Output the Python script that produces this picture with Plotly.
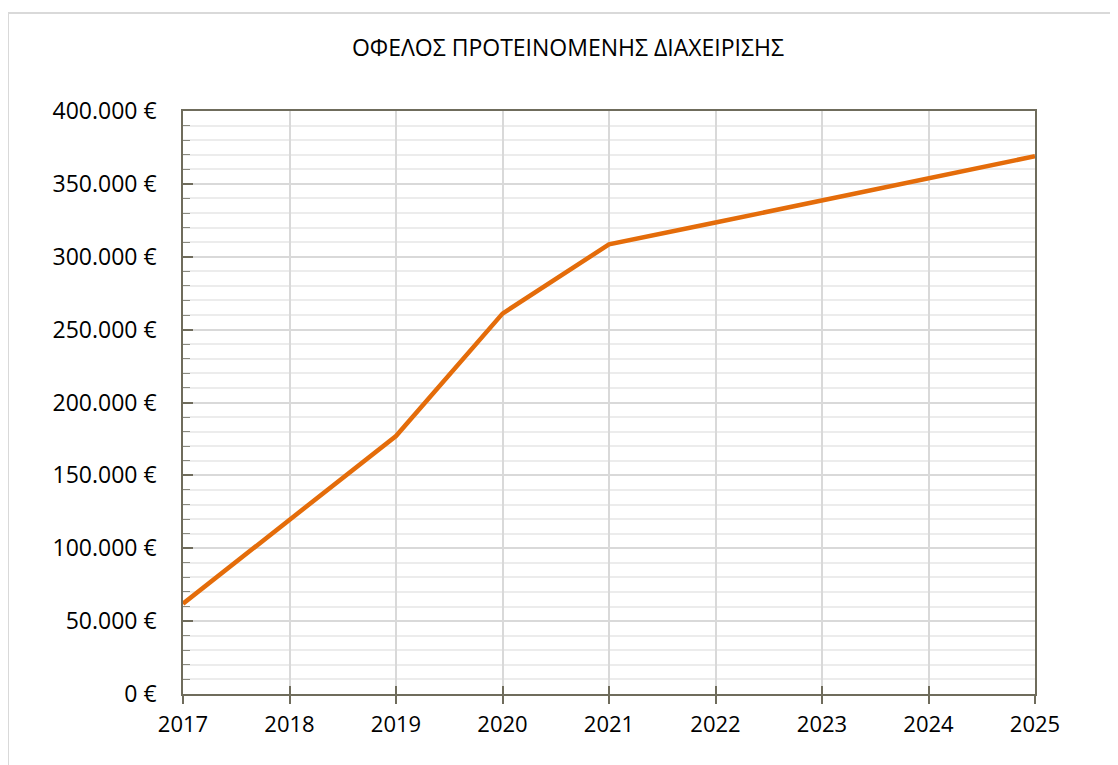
import plotly.graph_objects as go

years = [2017, 2018, 2019, 2020, 2021, 2022, 2023, 2024, 2025]
benefit = [62000, 119500, 177000, 261000, 308500, 323500, 338500, 353500, 369000]
title_text = "ΟΦΕΛΟΣ ΠΡΟΤΕΙΝΟΜΕΝΗΣ ΔΙΑΧΕΙΡΙΣΗΣ"

OFF = 8  # page body margin
W, H = 1118 - OFF, 765 - OFF
L, R, T, B = 183 - OFF, 83, 111 - OFF, 71
pw, ph = W - L - R, H - T - B

axis_col = "#6f6c5c"
font_fam = "Open Sans, DejaVu Sans, sans-serif"

fig = go.Figure()
fig.add_trace(go.Scatter(
    x=years, y=benefit, mode="lines",
    line=dict(color="#E46C0A", width=4.5),
    showlegend=False, hoverinfo="x+y",
))
# invisible trace to carry the inside half of the crossing x ticks
fig.add_trace(go.Scatter(x=years, y=benefit, xaxis="x2", mode="lines",
                         line=dict(width=0), showlegend=False, hoverinfo="skip"))

fig.update_layout(
    width=W, height=H,
    margin=dict(l=L, r=R, t=T, b=B),
    paper_bgcolor="white", plot_bgcolor="white",
    separators=",.",
    font=dict(family=font_fam, color="#000000"),
    title=dict(text=title_text, x=(568 - OFF) / W, xref="container", xanchor="center",
               y=1 - (48 - OFF) / H, yref="container", yanchor="middle",
               font=dict(size=23, family=font_fam, color="#000000")),
    xaxis=dict(
        range=[years[0], years[-1]], tickmode="array", tickvals=years,
        ticktext=[str(y) for y in years],
        showgrid=True, gridcolor="#d9d9d9", gridwidth=1.5,
        showline=True, linecolor=axis_col, linewidth=1.5, mirror=True,
        ticks="outside", ticklen=8, tickcolor=axis_col, tickwidth=1.5,
        tickfont=dict(size=22), ticklabelstandoff=2,
        zeroline=False,
    ),
    xaxis2=dict(
        overlaying="x", range=[years[0], years[-1]], tickmode="array", tickvals=years,
        showticklabels=False, showgrid=False, showline=False,
        ticks="inside", ticklen=8, tickcolor=axis_col, tickwidth=1.5,
        side="bottom", anchor="y", zeroline=False,
    ),
    yaxis=dict(
        range=[0, 400000], tick0=0, dtick=50000,
        tickformat=",d", ticksuffix=" €",
        showgrid=True, gridcolor="#d9d9d9", gridwidth=1.5,
        showline=True, linecolor=axis_col, linewidth=1.5, mirror=True,
        ticks="inside", ticklen=10, tickcolor=axis_col, tickwidth=1.5,
        tickfont=dict(size=23), ticklabelstandoff=20,
        zeroline=False,
        minor=dict(dtick=10000, showgrid=True, gridcolor="#ececec", gridwidth=1.5,
                   ticks="inside", ticklen=7, tickcolor="#8a8a80", tickwidth=1),
    ),
)

# outer chart border (clipped by the page edges on right and bottom)
x0 = (8 - OFF - L) / pw
x1 = (W + 20 - L) / pw
y1 = (H - B - (13 - OFF)) / ph
y0 = (H - B - (H + 20)) / ph
fig.add_shape(type="rect", xref="paper", yref="paper", x0=x0, x1=x1, y0=y0, y1=y1,
              line=dict(color="#d9d9d9", width=2), layer="below")

fig.write_html("out.html")
